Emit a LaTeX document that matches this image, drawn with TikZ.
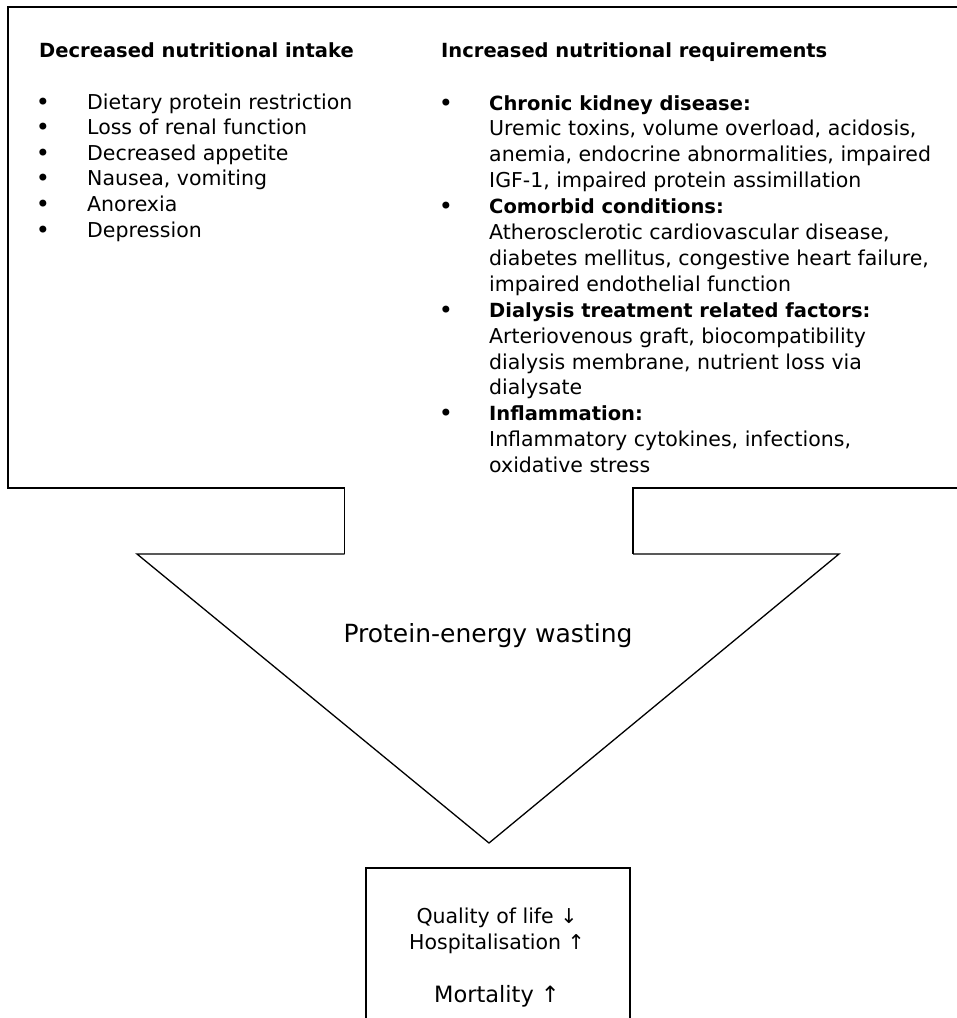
\documentclass[tikz,border=0pt]{standalone}
\usepackage{fontspec}
\setmainfont{DejaVu Sans}
\begin{document}
\begin{tikzpicture}[x=1pt,y=-1pt]
\tikzset{
  body/.style={font=\fontsize{20.5}{25.8}\selectfont, inner sep=0pt, anchor=base west},
  head/.style={body, font=\fontsize{19.5}{25.8}\selectfont\bfseries},
  bul/.style={font=\fontsize{24}{25.8}\selectfont, inner sep=0pt, anchor=base},
  ctr/.style={font=\fontsize{20.5}{25.8}\selectfont, inner sep=0pt, anchor=base},
  frame/.style={line width=1.8pt, line join=miter},
  wedge/.style={line width=1.3pt, line join=miter},
}
\useasboundingbox (0,0) rectangle (957,1018);
\clip (0,0) rectangle (957,1018);
% named corners of the shapes
\coordinate (nlb) at (344.5,554);
\coordinate (nlt) at (344.5,488);
\coordinate (nrt) at (633,488);
\coordinate (nrb) at (633,554);
\coordinate (tl) at (137,554);
\coordinate (tr) at (839,554);
\coordinate (tip) at (489,843);
% top frame with notch
\draw[frame] (nlb) -- (nlt) -- (8,488) -- (8,7) -- (980,7) -- (980,488) -- (nrt) -- (nrb);
% arrow head
\draw[wedge] (nrb) -- (tr) -- (tip) -- (tl) -- (nlb);
% bottom box
\draw[frame] (366,1040) -- (366,868) -- (630,868) -- (630,1040);

% left column
\node[head] (lh) at (39,57) {Decreased nutritional intake};
\foreach \k/\t in {0/{Dietary protein restriction},1/{Loss of renal function},2/{Decreased appetite},3/{Nausea, vomiting},4/{Anorexia},5/{Depression}}{
  \node[bul] (lb\k) at (43,{110+25.6*\k}) {•};
  \node[body] (lt\k) at (87,{109+25.6*\k}) {\t};
}

% right column
\node[head] (rh) at (441,57) {Increased nutritional requirements};
\foreach \k in {0,4,8,12}{
  \node[bul] (rb\k) at (446,{111+25.9*\k}) {•};
}
\node[head] (r0) at (489,{110+25.9*0}) {Chronic kidney disease:};
\node[body] (r1) at (489,{110+25.9*1}) {Uremic toxins, volume overload, acidosis,};
\node[body] (r2) at (489,{110+25.9*2}) {anemia, endocrine abnormalities, impaired};
\node[body] (r3) at (489,{110+25.9*3}) {IGF-1, impaired protein assimillation};
\node[head] (r4) at (489,{110+25.9*4}) {Comorbid conditions:};
\node[body] (r5) at (489,{110+25.9*5}) {Atherosclerotic cardiovascular disease,};
\node[body] (r6) at (489,{110+25.9*6}) {diabetes mellitus, congestive heart failure,};
\node[body] (r7) at (489,{110+25.9*7}) {impaired endothelial function};
\node[head] (r8) at (489,{110+25.9*8}) {Dialysis treatment related factors:};
\node[body] (r9) at (489,{110+25.9*9}) {Arteriovenous graft, biocompatibility};
\node[body] (r10) at (489,{110+25.9*10}) {dialysis membrane, nutrient loss via};
\node[body] (r11) at (489,{110+25.9*11}) {dialysate};
\node[head] (r12) at (489,{110+25.9*12}) {Inflammation:};
\node[body] (r13) at (489,{110+25.9*13}) {Inflammatory cytokines, infections,};
\node[body] (r14) at (489,{110+25.9*14}) {oxidative stress};

% arrow label
\node[ctr, font=\fontsize{25}{30}\selectfont] (pew) at (488,642) {Protein-energy wasting};

% outcomes
\node[ctr] (q1) at (497,923) {Quality of life ↓};
\node[ctr] (q2) at (497,949) {Hospitalisation ↑};
\node[ctr, font=\fontsize{22.5}{27}\selectfont] (q3) at (497,1002) {Mortality ↑};
\end{tikzpicture}
\end{document}
